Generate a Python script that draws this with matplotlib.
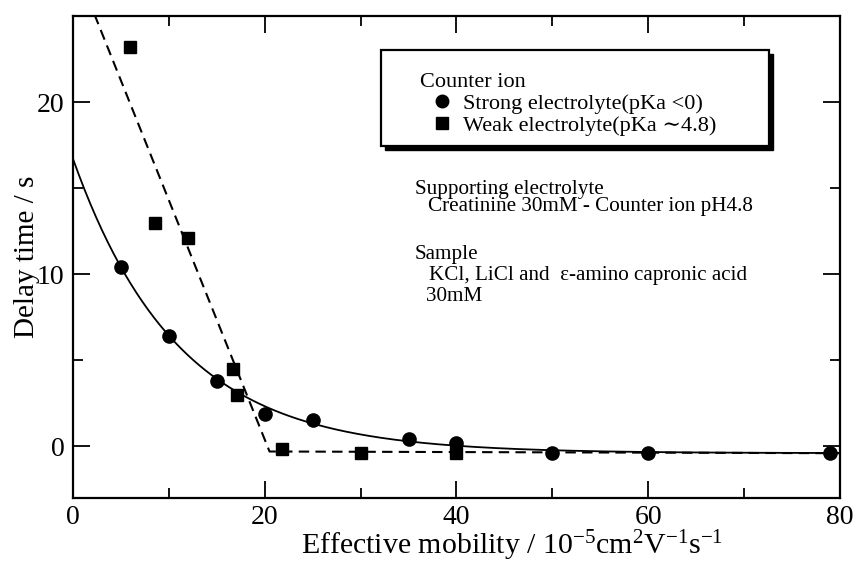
import numpy as np
import matplotlib
matplotlib.use("Agg")
import matplotlib.pyplot as plt
from matplotlib.patches import Rectangle
from matplotlib.lines import Line2D

plt.rcParams['font.family'] = ['Liberation Serif', 'DejaVu Serif']
plt.rcParams['mathtext.fontset'] = 'custom'
plt.rcParams['mathtext.rm'] = 'Liberation Serif'
plt.rcParams['mathtext.it'] = 'Liberation Serif:italic'

# strong electrolyte counter ions (circles)
strong_x = [5, 10, 15, 20, 25, 35, 40, 50, 60, 79]
strong_y = [10.4, 6.4, 3.8, 1.9, 1.55, 0.45, 0.2, -0.4, -0.4, -0.4]

# weak electrolyte counter ions (squares)
weak_x = [5.9, 8.6, 12.0, 16.7, 17.1, 21.8, 30.0, 40.0]
weak_y = [23.2, 13.0, 12.1, 4.5, 3.0, -0.15, -0.37, -0.4]

# exponential fit for strong electrolytes: y = c + a*exp(-x/tau)
fit_a = 17.1
fit_tau = 10.9
fit_c = -0.4

# two-segment guide line for weak electrolytes
weak_line_x = [0, 20.5, 80]
weak_line_y = [28.2, -0.3, -0.4]

fig = plt.figure(figsize=(8.57, 5.63), dpi=100)
ax = fig.add_axes([0.0852, 0.1155, 0.8948, 0.8561])

xs = np.linspace(0, 80, 400)
ax.plot(xs, fit_c + fit_a * np.exp(-xs / fit_tau), color='black', lw=1.3)
ax.plot(weak_line_x, weak_line_y, color='black', lw=1.5, ls=(0, (5, 3)))
ax.plot(strong_x, strong_y, 'o', color='black', ms=9.5, zorder=3)
ax.plot(weak_x, weak_y, 's', color='black', ms=9, zorder=3)

ax.set_xlim(0, 80)
ax.set_ylim(-3, 25)
ax.set_xticks([0, 20, 40, 60, 80])
ax.set_xticks([10, 30, 50, 70], minor=True)
ax.set_yticks([0, 10, 20])
ax.set_yticks([5, 15, 25], minor=True)
ax.tick_params(which='both', direction='in', top=True, right=True,
               width=1.3, labelsize=20, pad=6)
ax.tick_params(axis='x', pad=5)
ax.tick_params(which='major', length=12)
ax.tick_params(which='minor', length=7)
for s in ax.spines.values():
    s.set_linewidth(1.6)

fig.text(512 / 857, 1 - 554 / 563,
         r"Effective mobility / 10$^{-5}$cm$^{2}$V$^{-1}$s$^{-1}$",
         fontsize=21.5, ha='center', va='baseline')
ax.set_ylabel("Delay time / s", fontsize=21, labelpad=-2)

# legend box with a dark drop shadow
ax.add_patch(Rectangle((32.52, 17.21), 40.5, 5.58, facecolor='black',
                       edgecolor='black', zorder=4))
ax.add_patch(Rectangle((32.1, 17.44), 40.5, 5.58, facecolor='white',
                       edgecolor='black', lw=1.6, zorder=5))
handles = [Line2D([], [], marker='o', ls='none', color='black', ms=9),
           Line2D([], [], marker='s', ls='none', color='black', ms=8)]
labels = ["Strong electrolyte(pKa \u003c0)", "Weak electrolyte(pKa \u223c4.8)"]
leg = ax.legend(handles, labels, title="Counter ion", loc='upper left',
                bbox_to_anchor=(0.432, 0.914), frameon=False, fontsize=16,
                title_fontsize=16, alignment='left', handlelength=1.95,
                handletextpad=0.0, labelspacing=0.06, borderpad=0.2)
leg.set_zorder(6)

# experimental conditions
notes_x = [35.67, 37.0, 35.67, 37.1, 36.8]
notes_y = [14.65, 13.66, 10.87, 9.65, 8.43]
notes_text = [
    "Supporting electrolyte",
    "Creatinine 30mM - Counter ion pH4.8",
    "Sample",
    "KCl, LiCl and  \u03b5-amino capronic acid",
    "30mM",
]
for x, y, s in zip(notes_x, notes_y, notes_text):
    ax.text(x, y, s, fontsize=15.2, va='baseline', ha='left')

fig.savefig("out.png", dpi=100)
